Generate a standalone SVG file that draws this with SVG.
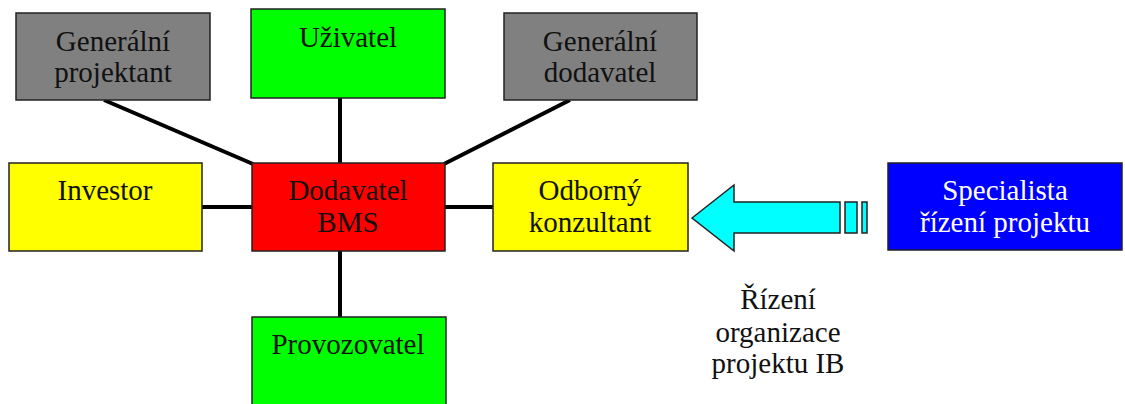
<svg xmlns="http://www.w3.org/2000/svg" width="1125" height="404" viewBox="0 0 1125 404">
  <style>
    .box { stroke: #222; stroke-width: 1.5; }
    .grey { fill: #808080; }
    .green { fill: #00ff00; }
    .yellow { fill: #ffff00; }
    .red { fill: #ff0000; }
    .blue { fill: #0000ff; }
    .lbl { font-family: "Liberation Serif", "Times New Roman", serif; font-size: 29px; fill: #111; text-anchor: middle; }
    .lbl.white { fill: #ffffff; }
    .link { stroke: #000; stroke-width: 4; fill: none; }
    .arrow { fill: #00ffff; stroke: #222; stroke-width: 1.5; stroke-linejoin: miter; }
  </style>
  <rect width="1125" height="404" fill="#ffffff"/>

  <!-- connectors radiating from the supplier node -->
  <g id="connectors">
    <line class="link" x1="104" y1="100" x2="253" y2="164"/>
    <line class="link" x1="340" y1="98" x2="340" y2="163"/>
    <line class="link" x1="570" y1="100" x2="444" y2="164"/>
    <line class="link" x1="202" y1="207" x2="252" y2="207"/>
    <line class="link" x1="445" y1="207" x2="493" y2="207"/>
    <line class="link" x1="340" y1="251" x2="340" y2="317"/>
  </g>

  <g id="generalni-projektant">
    <rect class="box grey" x="16" y="13" width="194" height="87"/>
    <text class="lbl" x="113" y="51">Generální</text>
    <text class="lbl" x="113" y="82">projektant</text>
  </g>

  <g id="uzivatel">
    <rect class="box green" x="251" y="9" width="194" height="89"/>
    <text class="lbl" x="348" y="47">Uživatel</text>
  </g>

  <g id="generalni-dodavatel">
    <rect class="box grey" x="504" y="13" width="193" height="87"/>
    <text class="lbl" x="600" y="51">Generální</text>
    <text class="lbl" x="600" y="82">dodavatel</text>
  </g>

  <g id="investor">
    <rect class="box yellow" x="9" y="163" width="193" height="88"/>
    <text class="lbl" x="105" y="200">Investor</text>
  </g>

  <g id="dodavatel-bms">
    <rect class="box red" x="252" y="163" width="193" height="88"/>
    <text class="lbl" x="348" y="200">Dodavatel</text>
    <text class="lbl" x="348" y="232">BMS</text>
  </g>

  <g id="odborny-konzultant">
    <rect class="box yellow" x="493" y="163" width="195" height="88"/>
    <text class="lbl" x="590" y="200">Odborný</text>
    <text class="lbl" x="590" y="232">konzultant</text>
  </g>

  <g id="provozovatel">
    <rect class="box green" x="252" y="317" width="194" height="95"/>
    <text class="lbl" x="348" y="354">Provozovatel</text>
  </g>

  <g id="specialista">
    <rect class="box blue" x="888" y="163" width="234" height="87"/>
    <text class="lbl white" x="1005" y="200">Specialista</text>
    <text class="lbl white" x="1005" y="232">řízení projektu</text>
  </g>

  <!-- striped block arrow pointing at the consultant -->
  <g id="rizeni-arrow">
    <polygon class="arrow" points="692,218 734,185 734,202 840,202 840,233 734,233 734,251"/>
    <rect class="arrow" x="845" y="202" width="12" height="31"/>
    <rect class="arrow" x="862" y="202" width="5" height="31"/>
  </g>

  <g id="rizeni-label">
    <text class="lbl" x="778" y="309">Řízení</text>
    <text class="lbl" x="778" y="342">organizace</text>
    <text class="lbl" x="778" y="373">projektu IB</text>
  </g>
</svg>
